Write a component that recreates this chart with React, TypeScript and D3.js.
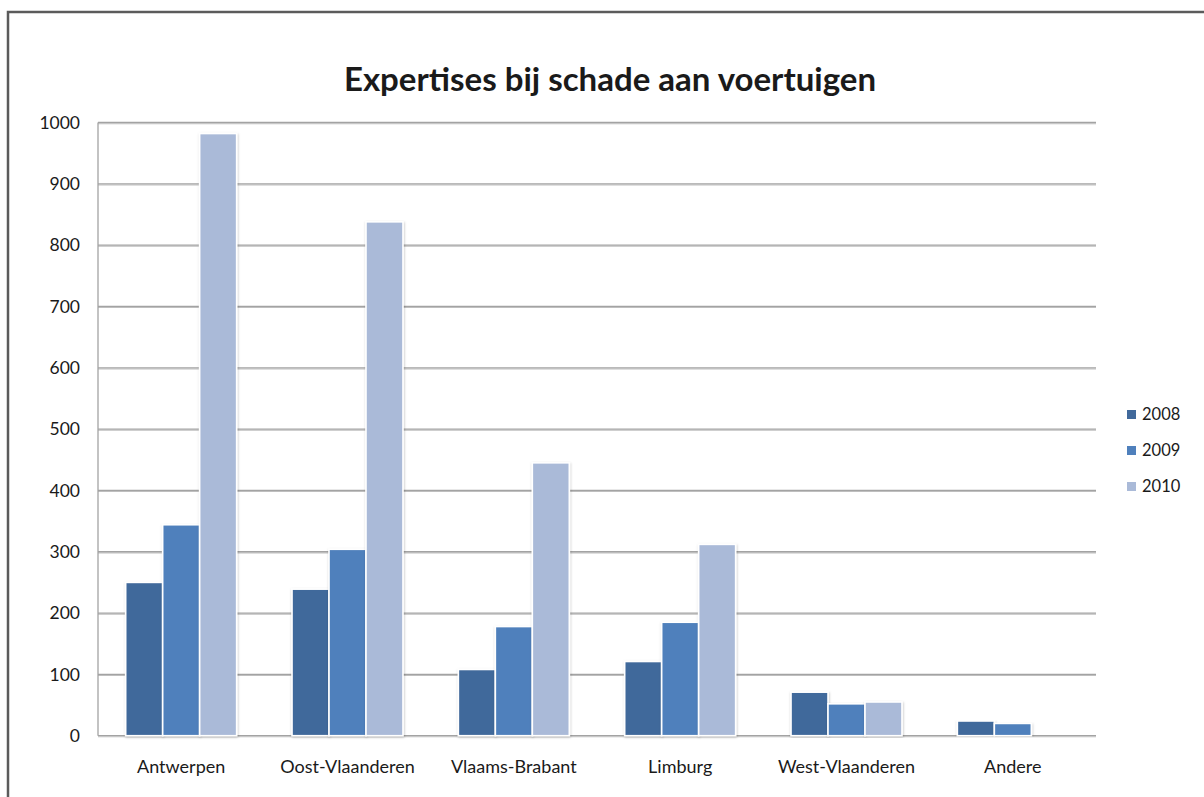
import React from "react";
import * as d3 from "d3";

const categories = ["Antwerpen", "Oost-Vlaanderen", "Vlaams-Brabant", "Limburg", "West-Vlaanderen", "Andere"];
const seriesNames = ["2008", "2009", "2010"];
const values2008 = [250, 239, 108, 121, 71, 24];
const values2009 = [344, 304, 178, 185, 52, 20];
const values2010 = [982, 838, 445, 312, 55, 0];
const yTicks = [0, 100, 200, 300, 400, 500, 600, 700, 800, 900, 1000];
const colors = ["#41699b", "#4f80bc", "#aabad8"];

const W = 1204;
const H = 797;
const plot = { left: 98, right: 1096, top: 122.5, bottom: 735.7 };
const font = "Lato, 'Open Sans', sans-serif";

export default function App() {
  const series = [values2008, values2009, values2010];
  const x = d3
    .scaleBand<string>()
    .domain(categories)
    .range([plot.left, plot.right])
    .paddingInner(0.333)
    .paddingOuter(0.1665);
  const xi = d3.scaleBand<string>().domain(seriesNames).range([0, x.bandwidth()]).padding(0);
  const y = d3.scaleLinear().domain([0, 1000]).range([plot.bottom, plot.top]);

  return (
    <div style={{ position: "absolute", left: 0, top: 0 }}>
      <svg width={W} height={H} style={{ display: "block" }}>
        <defs>
          <filter id="sh" x="-20%" y="-5%" width="140%" height="110%">
            <feDropShadow dx="0.5" dy="1" stdDeviation="1.2" floodColor="#000" floodOpacity="0.25" />
          </filter>
          <filter id="gsh" x="0" y="-50%" width="100%" height="300%">
            <feDropShadow dx="0" dy="1" stdDeviation="0.6" floodColor="#000" floodOpacity="0.25" />
          </filter>
        </defs>
        <rect x={0} y={0} width={W} height={H} fill="#fff" />
        {/* outer frame */}
        <path d={`M8,${H} V12 H${W}`} fill="none" stroke="#5b5b5b" strokeWidth={2.5} />
        {/* title */}
        <text x={610} y={91} textAnchor="middle" fontFamily={font} fontWeight={700} fontSize={33} fill="#1a1a1a">
          Expertises bij schade aan voertuigen
        </text>
        {/* gridlines */}
        <g filter="url(#gsh)">
          {yTicks.map((t) => (
            <line key={t} x1={plot.left} x2={plot.right} y1={y(t)} y2={y(t)} stroke="#a3a3a3" strokeWidth={1.3} />
          ))}
        </g>
        <line x1={plot.left} x2={plot.left} y1={plot.top} y2={plot.bottom} stroke="#a3a3a3" strokeWidth={1.3} />
        {/* y tick labels */}
        {yTicks.map((t) => (
          <text key={t} x={80} y={y(t)} dy="0.36em" textAnchor="end" fontFamily={font} fontSize={17.5} fill="#1a1a1a">
            {t}
          </text>
        ))}
        {/* bars */}
        <g>
          {categories.map((c, ci) => (
            <g key={c} transform={`translate(${x(c)},0)`}>
              {series.map((vals, si) =>
                vals[ci] > 0 ? (
                  <rect
                    key={si}
                    x={xi(seriesNames[si])!}
                    y={y(vals[ci])}
                    width={xi.bandwidth()}
                    height={y(0) - y(vals[ci])}
                    fill={colors[si]}
                    stroke="#fff"
                    strokeWidth={1.6}
                    filter="url(#sh)"
                  />
                ) : null
              )}
            </g>
          ))}
        </g>
        {/* x labels */}
        {categories.map((c) => (
          <text key={c} x={x(c)! + x.bandwidth() / 2} y={773} textAnchor="middle" fontFamily={font} fontSize={18} fill="#1a1a1a">
            {c}
          </text>
        ))}
        {/* legend */}
        {seriesNames.map((s, i) => (
          <g key={s} transform={`translate(1127,${410 + i * 36})`}>
            <rect x={0} y={0} width={9} height={9} fill={colors[i]} />
            <text x={15} y={9.5} fontFamily={font} fontSize={16.5} fill="#1a1a1a">
              {s}
            </text>
          </g>
        ))}
      </svg>
    </div>
  );
}
